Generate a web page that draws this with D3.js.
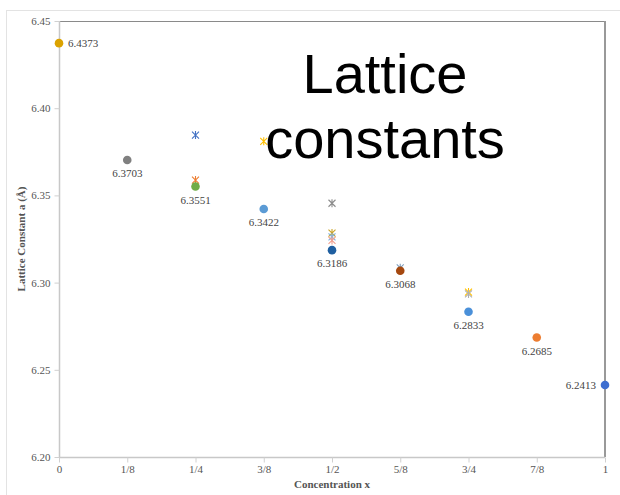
<!DOCTYPE html>
<html>
<head>
<meta charset="utf-8">
<script src="https://cdn.jsdelivr.net/npm/d3@7"></script>
<style>
  body { margin: 0; background: #fff; }
  svg { display: block; }
</style>
</head>
<body>
<svg id="chart"></svg>
<script>
'use strict'

// concentration x (tick labels and positions)
var tickValues = [0, 0.125, 0.25, 0.375, 0.5, 0.625, 0.75, 0.875, 1];
var tickLabels = ["0", "1/8", "1/4", "3/8", "1/2", "5/8", "3/4", "7/8", "1"];
var yTicks = [6.20, 6.25, 6.30, 6.35, 6.40, 6.45];

// labelled circle series
var circleX = [0, 0.125, 0.25, 0.375, 0.5, 0.625, 0.75, 0.875, 1];
var circleY = [6.4373, 6.3703, 6.3551, 6.3422, 6.3186, 6.3068, 6.2833, 6.2685, 6.2413];

// star marker series (unlabelled)
var starX = [0.25, 0.25, 0.375, 0.5, 0.5, 0.5, 0.5, 0.625, 0.75, 0.75];
var starY = [6.3846, 6.3588, 6.3810, 6.3455, 6.3284, 6.3262, 6.3242, 6.3085, 6.2946, 6.2935];

var circleColors = ["#dba200", "#808080", "#70ad47", "#5b9bd5", "#1f5fa0", "#a5480f", "#4a90d9", "#ed7d31", "#3f6fd0"];
var starColors = ["#4472c4", "#ed7d31", "#ffc000", "#8c8c8c", "#c9a227", "#7fb2e0", "#f0a090", "#7f9fbf", "#ffc000", "#b0b0b0"];

var WIDTH = 620, HEIGHT = 495;
var margin = { top: 21, right: 14, bottom: 38, left: 59 };

var svg = d3.select("#chart")
	.attr("width", WIDTH)
	.attr("height", HEIGHT);

// outer chart frame
svg.append("rect")
	.attr("x", 6.5)
	.attr("y", 10.5)
	.attr("width", 700)
	.attr("height", 600)
	.style("fill", "none")
	.style("stroke", "#e3e3e3")

var x = d3.scaleLinear().domain([0, 1]).range([margin.left, WIDTH - margin.right - 1]);
var y = d3.scaleLinear().domain([6.20, 6.45]).range([HEIGHT - margin.bottom, margin.top]);

var serif = "'Liberation Serif', 'Times New Roman', serif";

// plot box: top and right darker, left and bottom lighter
svg.append("line")
	.attr("x1", x(0)).attr("x2", x(1))
	.attr("y1", y(6.45) + 0.5).attr("y2", y(6.45) + 0.5)
	.style("stroke", "#8a8a8a")
svg.append("line")
	.attr("x1", x(1)).attr("x2", x(1))
	.attr("y1", y(6.45)).attr("y2", y(6.20))
	.style("stroke", "#999")
	.style("stroke-width", 2)

var yAxis = svg.append("g")
	.attr("transform", "translate(" + (x(0) + 0.5) + ",0)")
	.call(d3.axisLeft(y).tickValues(yTicks).tickFormat(d3.format(".2f")).tickSize(5).tickPadding(4))
var xAxis = svg.append("g")
	.attr("transform", "translate(0," + (y(6.20) + 0.5) + ")")
	.call(d3.axisBottom(x).tickValues(tickValues).tickFormat(function(d, i) { return tickLabels[i] }).tickSize(5).tickPadding(3))

svg.selectAll(".domain").style("stroke", "#c8c8c8").style("stroke-width", 1.5)
svg.selectAll(".tick line").style("stroke", "#d0d0d0")
svg.selectAll(".tick text")
	.style("font-family", serif)
	.style("font-size", "11px")
	.style("fill", "#555")
yAxis.select(".domain").attr("d", "M0," + y(6.45) + "V" + y(6.20))
xAxis.select(".domain").attr("d", "M" + x(0) + ",0H" + x(1))

// axis titles
svg.append("text")
	.attr("x", (x(0) + x(1)) / 2)
	.attr("y", 488)
	.attr("text-anchor", "middle")
	.style("font-family", serif)
	.style("font-weight", "bold")
	.style("font-size", "11px")
	.style("fill", "#555")
	.text("Concentration x")
svg.append("text")
	.attr("transform", "translate(25," + ((y(6.20) + y(6.45)) / 2) + ") rotate(-90)")
	.attr("text-anchor", "middle")
	.style("font-family", serif)
	.style("font-weight", "bold")
	.style("font-size", "11px")
	.style("fill", "#555")
	.text("Lattice Constant a (Å)")

// star markers
var star = "M-3.5,-3.5L3.5,3.5M-3.5,3.5L3.5,-3.5M0,-4V4";
svg.selectAll(".star")
	.data(starX)
	.enter().append("path")
	.attr("class", "star")
	.attr("transform", function(d, i) { return "translate(" + x(d) + "," + y(starY[i]) + ")" })
	.attr("d", star)
	.style("fill", "none")
	.style("stroke-width", 1.1)
	.style("stroke", function(d, i) { return starColors[i] })

// circles
svg.selectAll(".dot")
	.data(circleX)
	.enter().append("circle")
	.attr("class", "dot")
	.attr("cx", function(d) { return x(d) })
	.attr("cy", function(d, i) { return y(circleY[i]) })
	.attr("r", 4.3)
	.style("fill", function(d, i) { return circleColors[i] })

// value labels
var last = circleX.length - 1;
svg.selectAll(".lbl")
	.data(circleX)
	.enter().append("text")
	.attr("class", "lbl")
	.attr("x", function(d, i) { return i == 0 ? x(d) + 9 : i == last ? x(d) - 9 : x(d) })
	.attr("y", function(d, i) { return i == 0 || i == last ? y(circleY[i]) + 4 : y(circleY[i]) + 17 })
	.attr("text-anchor", function(d, i) { return i == 0 ? "start" : i == last ? "end" : "middle" })
	.style("font-family", serif)
	.style("font-size", "11px")
	.style("fill", "#444")
	.text(function(d, i) { return circleY[i].toFixed(4) })

// big title drawn over the markers
var title = svg.append("text")
	.attr("text-anchor", "middle")
	.style("font-family", "'Liberation Sans', Arial, Helvetica, sans-serif")
	.style("font-size", "56px")
	.style("fill", "#000")
title.append("tspan").attr("x", 385).attr("y", 93).text("Lattice")
title.append("tspan").attr("x", 385).attr("y", 158).text("constants")
</script>
</body>
</html>
